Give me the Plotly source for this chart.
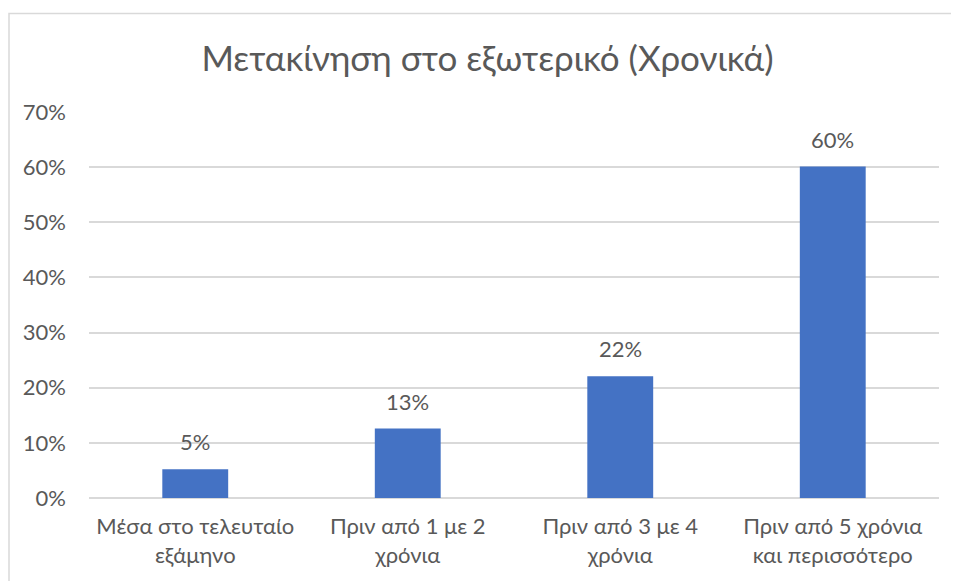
import plotly.graph_objects as go

categories = ["Μέσα στο τελευταίο<br>εξάμηνο", "Πριν από 1 με 2<br>χρόνια",
              "Πριν από 3 με 4<br>χρόνια", "Πριν από 5 χρόνια<br>και περισσότερο"]
values = [0.052, 0.126, 0.221, 0.601]
labels = ["5%", "13%", "22%", "60%"]
tick_vals = [0, 0.1, 0.2, 0.3, 0.4, 0.5, 0.6, 0.7]
title_text = "Μετακίνηση στο εξωτερικό (Χρονικά)"

FONT = "Lato, Open Sans, sans-serif"
GREY = "#595959"
FS = 22

fig = go.Figure(go.Bar(
    x=categories, y=values,
    marker=dict(color="#4472C4", line=dict(width=0)),
    cliponaxis=False,
))

annotations = [dict(x=c, y=v, text=t, xref="x", yref="y", showarrow=False,
                    yanchor="bottom", yshift=12,
                    font=dict(size=FS, color=GREY, family=FONT))
               for c, v, t in zip(categories, values, labels)]

fig.update_layout(
    width=959, height=581,
    margin=dict(l=81, r=28, t=104, b=91),
    paper_bgcolor="white", plot_bgcolor="white",
    bargap=0.69,
    title=dict(text=title_text, x=0.5, xanchor="center", y=0.912, yanchor="middle",
               font=dict(size=35, color=GREY, family=FONT)),
    font=dict(family=FONT, color=GREY, size=FS),
    showlegend=False,
    annotations=annotations,
    xaxis=dict(showgrid=False, showline=False, ticks="", ticklabelstandoff=13,
               tickfont=dict(size=FS, color=GREY)),
    yaxis=dict(range=[0, 0.7], tickvals=tick_vals, tickformat=".0%",
               showgrid=True, gridcolor="#D9D9D9", gridwidth=1.5,
               zeroline=True, zerolinecolor="#D9D9D9", zerolinewidth=1.5,
               showline=False, ticks="", ticklabelstandoff=22,
               tickfont=dict(size=FS, color=GREY)),
    shapes=[dict(type="rect", xref="paper", yref="paper",
                 x0=(9 - 89) / 850, x1=(958 - 89) / 850,
                 y0=-(581 - 498 + 5) / 386, y1=1 + (112 - 13.5) / 386,
                 line=dict(color="#D9D9D9", width=1.5), layer="below")],
)

fig.write_html("out.html")
